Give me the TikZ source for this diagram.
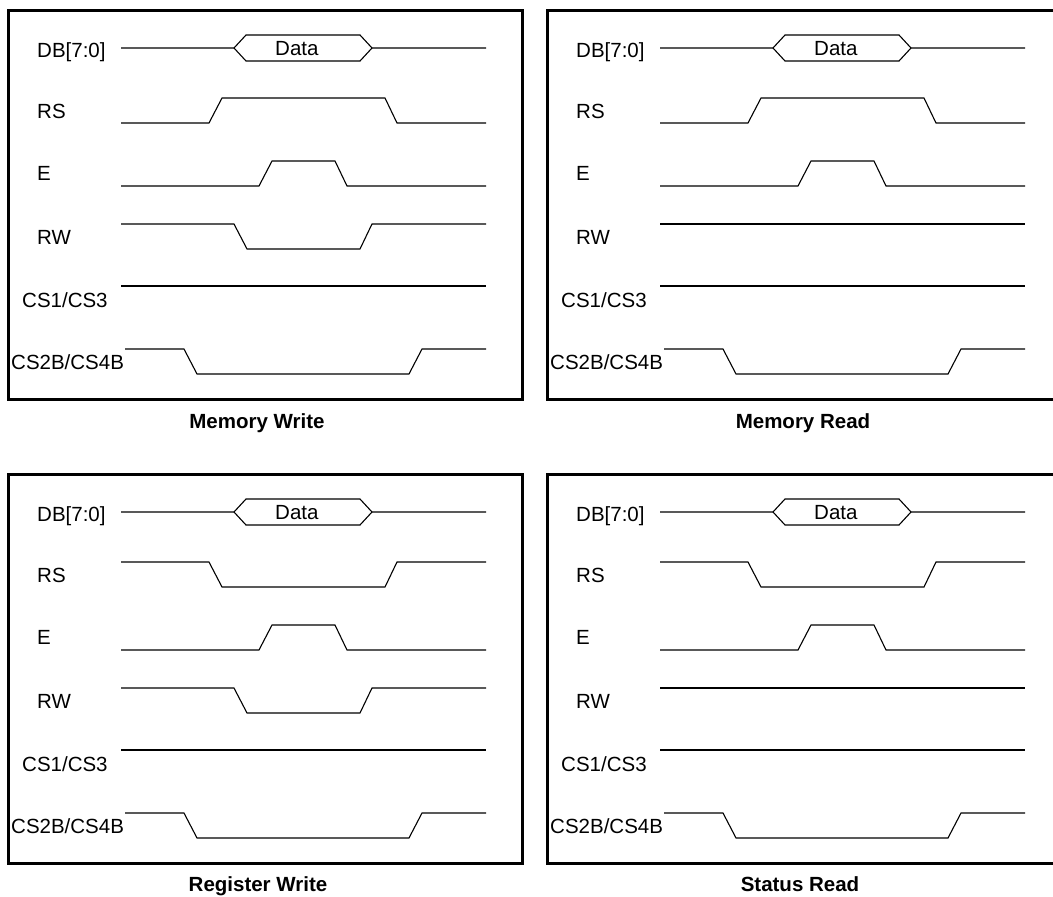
\documentclass[tikz,border=0pt]{standalone}
\usepackage{fontspec}
\setmainfont{Liberation Sans}

\begin{document}
\begin{tikzpicture}[x=1pt,y=-1pt,line join=miter,
                    font=\fontsize{20.5}{24}\selectfont]
\tikzstyle{frame}=[line width=3pt]
\tikzstyle{wave}=[line width=1.1pt]
\tikzstyle{signame}=[anchor=base west,inner sep=0pt]
\tikzstyle{caption}=[anchor=base,inner sep=0pt,font=\fontsize{20.5}{24}\selectfont\bfseries]
\useasboundingbox (0,0) rectangle (1053,897);
\clip (0,0) rectangle (1053,897);
\foreach \dx/\dy/\rsa/\rsb/\rwb/\tx/\ty/\ttl [count=\i] in
   {0/0/123/98/249/257/428/Memory Write,
    539/0/123/98/224/264/428/Memory Read,
    0/464/98/123/249/258/427/Register Write,
    539/464/98/123/224/261/427/Status Read}{
\begin{scope}[shift={(\dx,\dy)}]
\draw[frame] (8,10) rectangle (522,399);
\node[signame] (db\i) at (37,57) {DB[7:0]};
\node[signame] (rs\i) at (37,118) {RS};
\node[signame] (e\i) at (37,180) {E};
\node[signame] (rw\i) at (37,244) {RW};
\node[signame] (cs\i) at (22,307) {CS1/CS3};
\node[signame] (csb\i) at (11,369) {CS2B/CS4B};
\node[signame] (data\i) at (275,55) {Data};
% bus and control lines
\draw[wave] (121,48) -- (234,48) -- (246,35) -- (360,35) -- (372,48) -- (486,48);
\draw[wave] (234,48) -- (246,61) -- (360,61) -- (372,48);
\draw[wave] (121,\rsa) -- (209,\rsa) -- (222,\rsb) -- (385,\rsb) -- (397,\rsa) -- (486,\rsa);
\draw[wave] (121,186) -- (259,186) -- (272,161) -- (335,161) -- (347,186) -- (486,186);
\draw[wave] (121,224) -- (234,224) -- (247,\rwb) -- (360,\rwb) -- (372,224) -- (486,224);
\draw[wave] (121,286) -- (486,286);
\draw[wave] (125,349) -- (184,349) -- (197,374) -- (409,374) -- (422,349) -- (486,349);
\node[caption] (title\i) at (\tx,\ty) {\ttl};
\end{scope}
}
\end{tikzpicture}
\end{document}
